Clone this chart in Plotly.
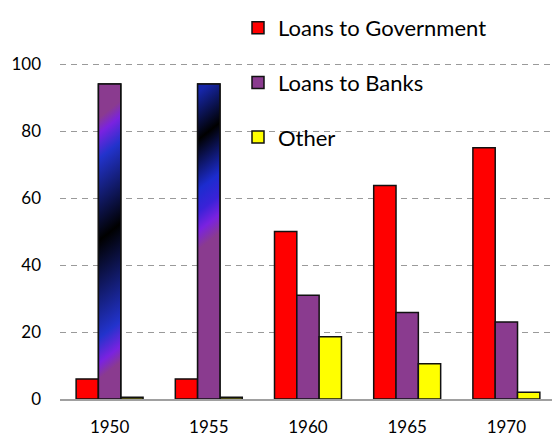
import base64
import plotly.graph_objects as go

# Reserve bank assets by year (percent of total)
years = ["1950", "1955", "1960", "1965", "1970"]
loans_gov = [6, 6, 50, 63.7, 75]
loans_banks = [94, 94, 31, 25.8, 23]
other = [0.5, 0.5, 18.6, 10.5, 2]

series_names = ["Loans to Government", "Loans to Banks", "Other"]
series_colors = ["#FF0000", "#8A3B8F", "#FFFF00"]

# Gradient fills used for the two tall "Loans to Banks" bars (stop offset, colour)
gradient_stops = {
    "1950": [(0.0, "#8A3B8F"), (0.08, "#8A3B8F"), (0.13, "#7A22E0"), (0.21, "#2233CC"),
             (0.47, "#000000"), (0.78, "#2233CC"), (0.86, "#7A22E0"), (0.91, "#8A3B8F"),
             (1.0, "#8A3B8F")],
    "1955": [(0.0, "#1626A8"), (0.15, "#000000"), (0.31, "#1C2CCF"), (0.38, "#3A22D8"),
             (0.44, "#7A22E0"), (0.50, "#8A3B8F"), (1.0, "#8A3B8F")],
}

BARGAP = 0.325
N_SERIES = 3
bar_w = (1 - BARGAP) / N_SERIES

fig = go.Figure()
for name, vals, col in zip(series_names, [loans_gov, loans_banks, other], series_colors):
    fig.add_trace(go.Bar(
        x=list(range(len(years))), y=vals, name=name, legendgroup=name,
        marker=dict(color=col, line=dict(color="#111111", width=1.5)),
    ))


def gradient_svg(stops, w=22, h=315):
    stop_xml = "".join(
        f'<stop offset="{o}" stop-color="{c}"/>' for o, c in stops
    )
    svg = (
        f'<svg xmlns="http://www.w3.org/2000/svg" width="{w}" height="{h}" '
        f'viewBox="0 0 {w} {h}" preserveAspectRatio="none">'
        f'<defs><linearGradient id="g" gradientUnits="userSpaceOnUse" x1="0" y1="0" x2="0" y2="{h}" '
        f'gradientTransform="translate(0,{w * 0.4}) skewY(-38.7)">{stop_xml}</linearGradient></defs>'
        f'<rect x="0" y="0" width="{w}" height="{h}" fill="url(#g)"/></svg>'
    )
    return "data:image/svg+xml;base64," + base64.b64encode(svg.encode()).decode()


images, shapes = [], []
for i, yr in enumerate(years):
    if yr not in gradient_stops:
        continue
    v = loans_banks[i]
    images.append(dict(
        source=gradient_svg(gradient_stops[yr]), xref="x", yref="y",
        x=i - bar_w / 2, y=v, sizex=bar_w, sizey=v,
        xanchor="left", yanchor="top", sizing="stretch", layer="above",
    ))
    shapes.append(dict(
        type="rect", xref="x", yref="y", x0=i - bar_w / 2, x1=i + bar_w / 2,
        y0=0, y1=v, line=dict(color="#111111", width=1.5),
        fillcolor="rgba(0,0,0,0)", layer="above",
    ))

fig.update_layout(
    width=552, height=437,
    margin=dict(l=60, r=0, t=62, b=38),
    paper_bgcolor="white", plot_bgcolor="white",
    barmode="group", bargap=BARGAP, bargroupgap=0,
    font=dict(family="Lato, Open Sans, sans-serif", color="#000000"),
    images=images, shapes=shapes,
    legend=dict(
        x=(238 - 60) / 492, xanchor="left", y=1 + 55 / 337, yanchor="top",
        bgcolor="rgba(0,0,0,0)", font=dict(size=22),
        traceorder="grouped", tracegroupgap=23,
    ),
    xaxis=dict(
        range=[-0.5, 4.46], tickmode="array", tickvals=list(range(len(years))),
        ticktext=years, showgrid=False, showline=True, linecolor="#A0A0A0", linewidth=1.5,
        ticks="", tickfont=dict(size=17), ticklabelstandoff=12, zeroline=False,
        automargin=False,
    ),
    yaxis=dict(
        range=[0, 100.6], tickvals=[0, 20, 40, 60, 80, 100], showgrid=True,
        gridcolor="#9A9A9A", gridwidth=1, griddash="6px,5px", zeroline=False,
        showline=False, ticks="", tickfont=dict(size=17), ticklabelstandoff=18,
        automargin=False,
    ),
)

fig.write_html("out.html")
